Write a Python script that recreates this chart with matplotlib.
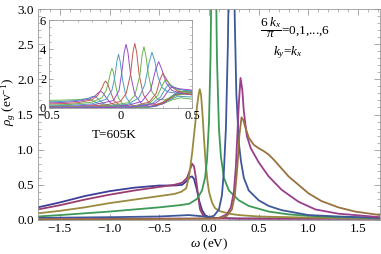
import matplotlib
matplotlib.use("Agg")
import matplotlib.pyplot as plt
from matplotlib.ticker import MultipleLocator, FixedLocator

plt.rcParams['font.family'] = ['Liberation Serif', 'DejaVu Serif']
plt.rcParams['mathtext.fontset'] = 'custom'
plt.rcParams['mathtext.rm'] = 'Liberation Serif'
plt.rcParams['mathtext.it'] = 'Liberation Serif:italic'

# ---------------- main plot data (omega in eV, rho in 1/eV) ----------------
w_k0 = [-1.72, -1.5, -1.25, -1.0, -0.75, -0.5, -0.35, -0.27, -0.22, -0.19, -0.17, -0.15, -0.12, -0.1,
        -0.07, -0.04, 0.0, 0.05, 0.1, 0.3, 0.6, 1.0, 1.72]
r_k0 = [0.18, 0.25, 0.34, 0.41, 0.46, 0.49, 0.49, 0.5, 0.56, 0.61, 0.62, 0.58, 0.42, 0.28,
        0.14, 0.07, 0.04, 0.03, 0.03, 0.02, 0.02, 0.02, 0.02]

w_k1 = [-1.72, -1.5, -1.25, -1.0, -0.75, -0.5, -0.35, -0.27, -0.22, -0.19, -0.17, -0.15, -0.13, -0.11,
        -0.09, -0.06, -0.03, 0.0, 0.05, 0.1, 0.3, 1.0, 1.72]
r_k1 = [0.15, 0.21, 0.29, 0.36, 0.42, 0.47, 0.5, 0.53, 0.6, 0.72, 0.8, 0.76, 0.58, 0.35,
        0.15, 0.07, 0.04, 0.03, 0.02, 0.02, 0.02, 0.02, 0.02]

w_k2 = [-1.72, -1.5, -1.25, -1.0, -0.75, -0.5, -0.35, -0.28, -0.23, -0.2, -0.17, -0.14, -0.12, -0.105,
        -0.093, -0.08, -0.065, -0.05, -0.033, -0.015, 0.0, 0.03, 0.06, 0.1, 0.2, 0.3, 0.5, 0.8, 1.2, 1.72]
r_k2 = [0.095, 0.13, 0.18, 0.24, 0.29, 0.34, 0.37, 0.4, 0.45, 0.62, 0.95, 1.35, 1.62, 1.78,
        1.86, 1.78, 1.5, 1.15, 0.8, 0.55, 0.4, 0.25, 0.17, 0.13, 0.09, 0.07, 0.05, 0.04, 0.03, 0.02]

w_k3 = [-1.72, -1.5, -1.0, -0.5, -0.3, -0.2, -0.12, -0.07, -0.04, -0.02, 0.0, 0.015, 0.03, 0.048,
        0.065, 0.08, 0.1, 0.12, 0.15, 0.2, 0.3, 0.4, 0.6, 0.8, 1.0, 1.3, 1.72]
r_k3 = [0.05, 0.07, 0.12, 0.18, 0.21, 0.23, 0.3, 0.42, 0.6, 0.85, 1.4, 2.3, 4.0, 8.0,
        4.0, 2.3, 1.3, 0.9, 0.6, 0.42, 0.28, 0.2, 0.12, 0.08, 0.06, 0.04, 0.03]

w_k4 = [-1.72, -1.0, -0.5, -0.2, -0.05, 0.0, 0.05, 0.1, 0.13, 0.15, 0.17, 0.19, 0.205, 0.225,
        0.245, 0.26, 0.275, 0.3, 0.32, 0.35, 0.4, 0.5, 0.6, 0.73, 1.0, 1.3, 1.72]
r_k4 = [0.03, 0.04, 0.05, 0.07, 0.05, 0.04, 0.06, 0.15, 0.35, 0.7, 1.3, 2.5, 4.0, 6.0,
        4.0, 2.8, 1.8, 1.1, 0.85, 0.6, 0.42, 0.28, 0.2, 0.14, 0.07, 0.05, 0.03]

w_k5 = [-1.72, -1.0, -0.5, 0.0, 0.1, 0.18, 0.22, 0.25, 0.27, 0.285, 0.3, 0.317, 0.335, 0.35,
        0.38, 0.42, 0.5, 0.6, 0.73, 0.9, 1.07, 1.3, 1.72]
r_k5 = [0.01, 0.015, 0.02, 0.02, 0.03, 0.08, 0.18, 0.4, 0.75, 1.2, 1.65, 2.02, 1.85, 1.55,
        1.2, 1.02, 0.82, 0.62, 0.43, 0.26, 0.15, 0.09, 0.04]

w_k6 = [-1.72, -1.0, -0.5, 0.0, 0.1, 0.18, 0.23, 0.26, 0.285, 0.305, 0.327, 0.345, 0.365, 0.4,
        0.45, 0.5, 0.55, 0.6, 0.65, 0.7, 0.8, 0.9, 1.0, 1.13, 1.3, 1.47, 1.72]
r_k6 = [0.01, 0.01, 0.015, 0.02, 0.025, 0.06, 0.15, 0.35, 0.75, 1.2, 1.46, 1.42, 1.32, 1.17,
        1.07, 1.02, 0.98, 0.93, 0.86, 0.78, 0.62, 0.5, 0.38, 0.27, 0.18, 0.12, 0.07]

main_omega = [w_k0, w_k1, w_k2, w_k3, w_k4, w_k5, w_k6]
main_rho = [r_k0, r_k1, r_k2, r_k3, r_k4, r_k5, r_k6]
main_colors = [(0.247, 0.24, 0.6), (0.6, 0.24, 0.443), (0.6, 0.547, 0.24), (0.24, 0.6, 0.341),
               (0.24, 0.344, 0.6), (0.6, 0.24, 0.551), (0.6, 0.444, 0.24)]

# ---------------- inset data (T = 605 K) ----------------
iw0 = [-0.5, -0.4, -0.3, -0.26, -0.24, -0.23, -0.22, -0.2, -0.16, -0.1, 0.0, 0.1, 0.2, 0.3, 0.36, 0.42, 0.5]
ir0 = [0.52, 0.54, 0.57, 0.6, 0.62, 0.62, 0.6, 0.52, 0.33, 0.16, 0.07, 0.05, 0.08, 0.3, 0.55, 0.7, 0.6]
iw1 = [-0.5, -0.4, -0.3, -0.23, -0.2, -0.185, -0.17, -0.15, -0.12, -0.06, 0.05, 0.15, 0.25, 0.33, 0.4, 0.5]
ir1 = [0.42, 0.45, 0.52, 0.65, 0.77, 0.8, 0.75, 0.55, 0.3, 0.12, 0.05, 0.05, 0.15, 0.5, 0.8, 0.75]
iw2 = [-0.5, -0.4, -0.3, -0.22, -0.18, -0.16, -0.14, -0.12, -0.1, -0.07, -0.02, 0.08, 0.2, 0.3, 0.38, 0.44, 0.5]
ir2 = [0.35, 0.38, 0.45, 0.6, 0.8, 1.0, 1.15, 1.0, 0.7, 0.35, 0.12, 0.05, 0.08, 0.35, 0.85, 1.0, 0.9]
iw3 = [-0.5, -0.4, -0.3, -0.2, -0.16, -0.13, -0.115, -0.105, -0.09, -0.07, -0.045, 0.0, 0.1, 0.2, 0.3, 0.38,
       0.45, 0.5]
ir3 = [0.28, 0.3, 0.36, 0.55, 0.85, 1.35, 1.7, 1.84, 1.65, 1.1, 0.5, 0.15, 0.05, 0.08, 0.4, 0.95, 1.15, 1.05]
iw4 = [-0.5, -0.35, -0.2, -0.13, -0.1, -0.08, -0.07, -0.06, -0.05, -0.035, -0.015, 0.02, 0.1, 0.2, 0.3, 0.38,
       0.45, 0.5]
ir4 = [0.2, 0.24, 0.4, 0.7, 1.2, 1.95, 2.4, 2.7, 2.45, 1.6, 0.7, 0.2, 0.05, 0.05, 0.3, 0.9, 1.2, 1.15]
iw5 = [-0.5, -0.35, -0.2, -0.1, -0.06, -0.04, -0.025, -0.014, -0.003, 0.015, 0.04, 0.08, 0.15, 0.25, 0.33, 0.4,
       0.5]
ir5 = [0.15, 0.18, 0.28, 0.6, 1.2, 2.1, 3.2, 3.66, 3.2, 1.9, 0.7, 0.2, 0.06, 0.1, 0.6, 1.1, 1.2]
iw6 = [-0.5, -0.35, -0.2, -0.05, -0.01, 0.01, 0.026, 0.039, 0.052, 0.07, 0.1, 0.15, 0.22, 0.3, 0.38, 0.5]
ir6 = [0.1, 0.12, 0.2, 0.5, 1.2, 2.5, 3.8, 4.34, 3.8, 2.3, 0.9, 0.25, 0.08, 0.3, 0.9, 1.1]
iw7 = [-0.5, -0.3, -0.1, 0.0, 0.04, 0.07, 0.087, 0.1, 0.113, 0.13, 0.16, 0.2, 0.26, 0.33, 0.4, 0.5]
ir7 = [0.07, 0.1, 0.2, 0.45, 1.0, 2.3, 3.8, 4.4, 3.8, 2.3, 0.9, 0.35, 0.2, 0.55, 0.95, 1.05]
iw8 = [-0.5, -0.3, -0.1, 0.05, 0.1, 0.135, 0.151, 0.164, 0.177, 0.195, 0.22, 0.26, 0.31, 0.38, 0.5]
ir8 = [0.05, 0.07, 0.13, 0.35, 0.85, 2.2, 3.6, 4.18, 3.6, 2.3, 1.1, 0.6, 0.55, 0.85, 1.0]
iw9 = [-0.5, -0.3, -0.1, 0.05, 0.13, 0.17, 0.2, 0.22, 0.24, 0.26, 0.29, 0.33, 0.4, 0.5]
ir9 = [0.04, 0.05, 0.1, 0.25, 0.7, 1.6, 3.1, 3.8, 3.2, 2.2, 1.4, 1.1, 1.0, 0.95]
iw10 = [-0.5, -0.3, -0.1, 0.05, 0.15, 0.21, 0.245, 0.267, 0.29, 0.32, 0.36, 0.42, 0.5]
ir10 = [0.03, 0.04, 0.08, 0.18, 0.45, 1.2, 2.6, 3.16, 2.6, 1.7, 1.2, 1.0, 0.9]
iw11 = [-0.5, -0.3, -0.1, 0.1, 0.2, 0.25, 0.275, 0.295, 0.32, 0.35, 0.4, 0.45, 0.5]
ir11 = [0.03, 0.03, 0.06, 0.15, 0.4, 1.0, 1.9, 2.36, 2.0, 1.5, 1.15, 1.0, 0.9]
iw12 = [-0.5, -0.3, -0.1, 0.1, 0.2, 0.26, 0.295, 0.315, 0.34, 0.37, 0.42, 0.5]
ir12 = [0.02, 0.03, 0.05, 0.12, 0.3, 0.85, 1.6, 1.95, 1.7, 1.4, 1.15, 1.0]
iw13 = [-0.5, -0.3, -0.1, 0.1, 0.22, 0.28, 0.315, 0.335, 0.36, 0.4, 0.45, 0.5]
ir13 = [0.02, 0.02, 0.04, 0.1, 0.3, 0.75, 1.35, 1.6, 1.5, 1.3, 1.2, 1.15]
iw14 = [-0.5, -0.3, -0.1, 0.1, 0.24, 0.3, 0.335, 0.355, 0.38, 0.42, 0.47, 0.5]
ir14 = [0.01, 0.02, 0.03, 0.08, 0.3, 0.7, 1.2, 1.4, 1.38, 1.3, 1.25, 1.22]

inset_omega = [iw0, iw1, iw2, iw3, iw4, iw5, iw6, iw7, iw8, iw9, iw10, iw11, iw12, iw13, iw14]
inset_rho = [ir0, ir1, ir2, ir3, ir4, ir5, ir6, ir7, ir8, ir9, ir10, ir11, ir12, ir13, ir14]
inset_palette = [(0.3, 0.62, 0.75), (0.58, 0.3, 0.78), (0.75, 0.35, 0.32), (0.42, 0.7, 0.3)]

main_xticks = [-1.5, -1.0, -0.5, 0.0, 0.5, 1.0, 1.5]
main_yticks = [0.0, 0.5, 1.0, 1.5, 2.0, 2.5, 3.0]
inset_xticks = [-0.5, 0.0, 0.5]
inset_xticklabels = ['\u22120.5', '0', '0.5']
inset_yticks = [0, 2, 4, 6]

# ---------------- figure ----------------
W, H = 381, 254
fig = plt.figure(figsize=(W / 100, H / 100), dpi=100)
ax = fig.add_axes([38 / W, 34 / H, 342 / W, 211 / H])
frame_col = '0.6'

for w, r, c in zip(main_omega, main_rho, main_colors):
    ax.plot(w, r, color=c, lw=1.3, solid_joinstyle='round')

ax.set_xlim(-1.72, 1.72)
ax.set_ylim(0, 3.0)
ax.xaxis.set_major_locator(FixedLocator(main_xticks))
ax.yaxis.set_major_locator(FixedLocator(main_yticks))
ax.xaxis.set_minor_locator(MultipleLocator(0.1))
ax.yaxis.set_minor_locator(MultipleLocator(0.1))
ax.tick_params(which='both', direction='in', top=True, right=True, color=frame_col,
               labelsize=9.5, pad=2.5)
ax.tick_params(axis='y', pad=3)
ax.tick_params(which='major', length=4, width=0.6)
ax.tick_params(which='minor', length=2, width=0.5)
for s in ax.spines.values():
    s.set_color(frame_col)
    s.set_linewidth(0.6)
ax.set_xlabel(r'$\omega$ (eV)', fontsize=9.5, labelpad=1)
ax.set_ylabel(r'$\rho_g$ (ev$^{-1}$)', fontsize=9.5)
ax.yaxis.set_label_coords(-20 / 342, 0.56)

fig.text(260 / W, 1 - 28 / H, r'$\dfrac{6\;k_x}{\pi}$=0,1,...,6', fontsize=9.5,
         ha='left', va='center')
fig.text(273 / W, 1 - 53 / H, r'$k_y$=$k_x$', fontsize=9.5, ha='left', va='center')

# ---------------- inset ----------------
ins = fig.add_axes([49 / W, (H - 108) / H, 143 / W, 88 / H])
ins.set_facecolor('white')
for i, (w, r) in enumerate(zip(inset_omega, inset_rho)):
    ins.plot(w, r, color=inset_palette[(i - 1) % 4], lw=0.7)
ins.set_xlim(-0.5, 0.5)
ins.set_ylim(0, 6)
ins.xaxis.set_major_locator(FixedLocator(inset_xticks))
ins.set_xticklabels(inset_xticklabels)
ins.yaxis.set_major_locator(FixedLocator(inset_yticks))
ins.xaxis.set_minor_locator(MultipleLocator(0.1))
ins.yaxis.set_minor_locator(MultipleLocator(0.5))
ins.tick_params(which='both', direction='in', top=True, right=True, color=frame_col,
                labelsize=9, pad=2)
ins.tick_params(axis='x', pad=1.5)
ins.tick_params(which='major', length=3, width=0.6)
ins.tick_params(which='minor', length=1.5, width=0.5)
for s in ins.spines.values():
    s.set_color(frame_col)
    s.set_linewidth(0.6)

fig.text(114 / W, 1 - 135 / H, 'T=605K', fontsize=9.5, ha='center', va='center')

fig.savefig('out.png', dpi=100)
